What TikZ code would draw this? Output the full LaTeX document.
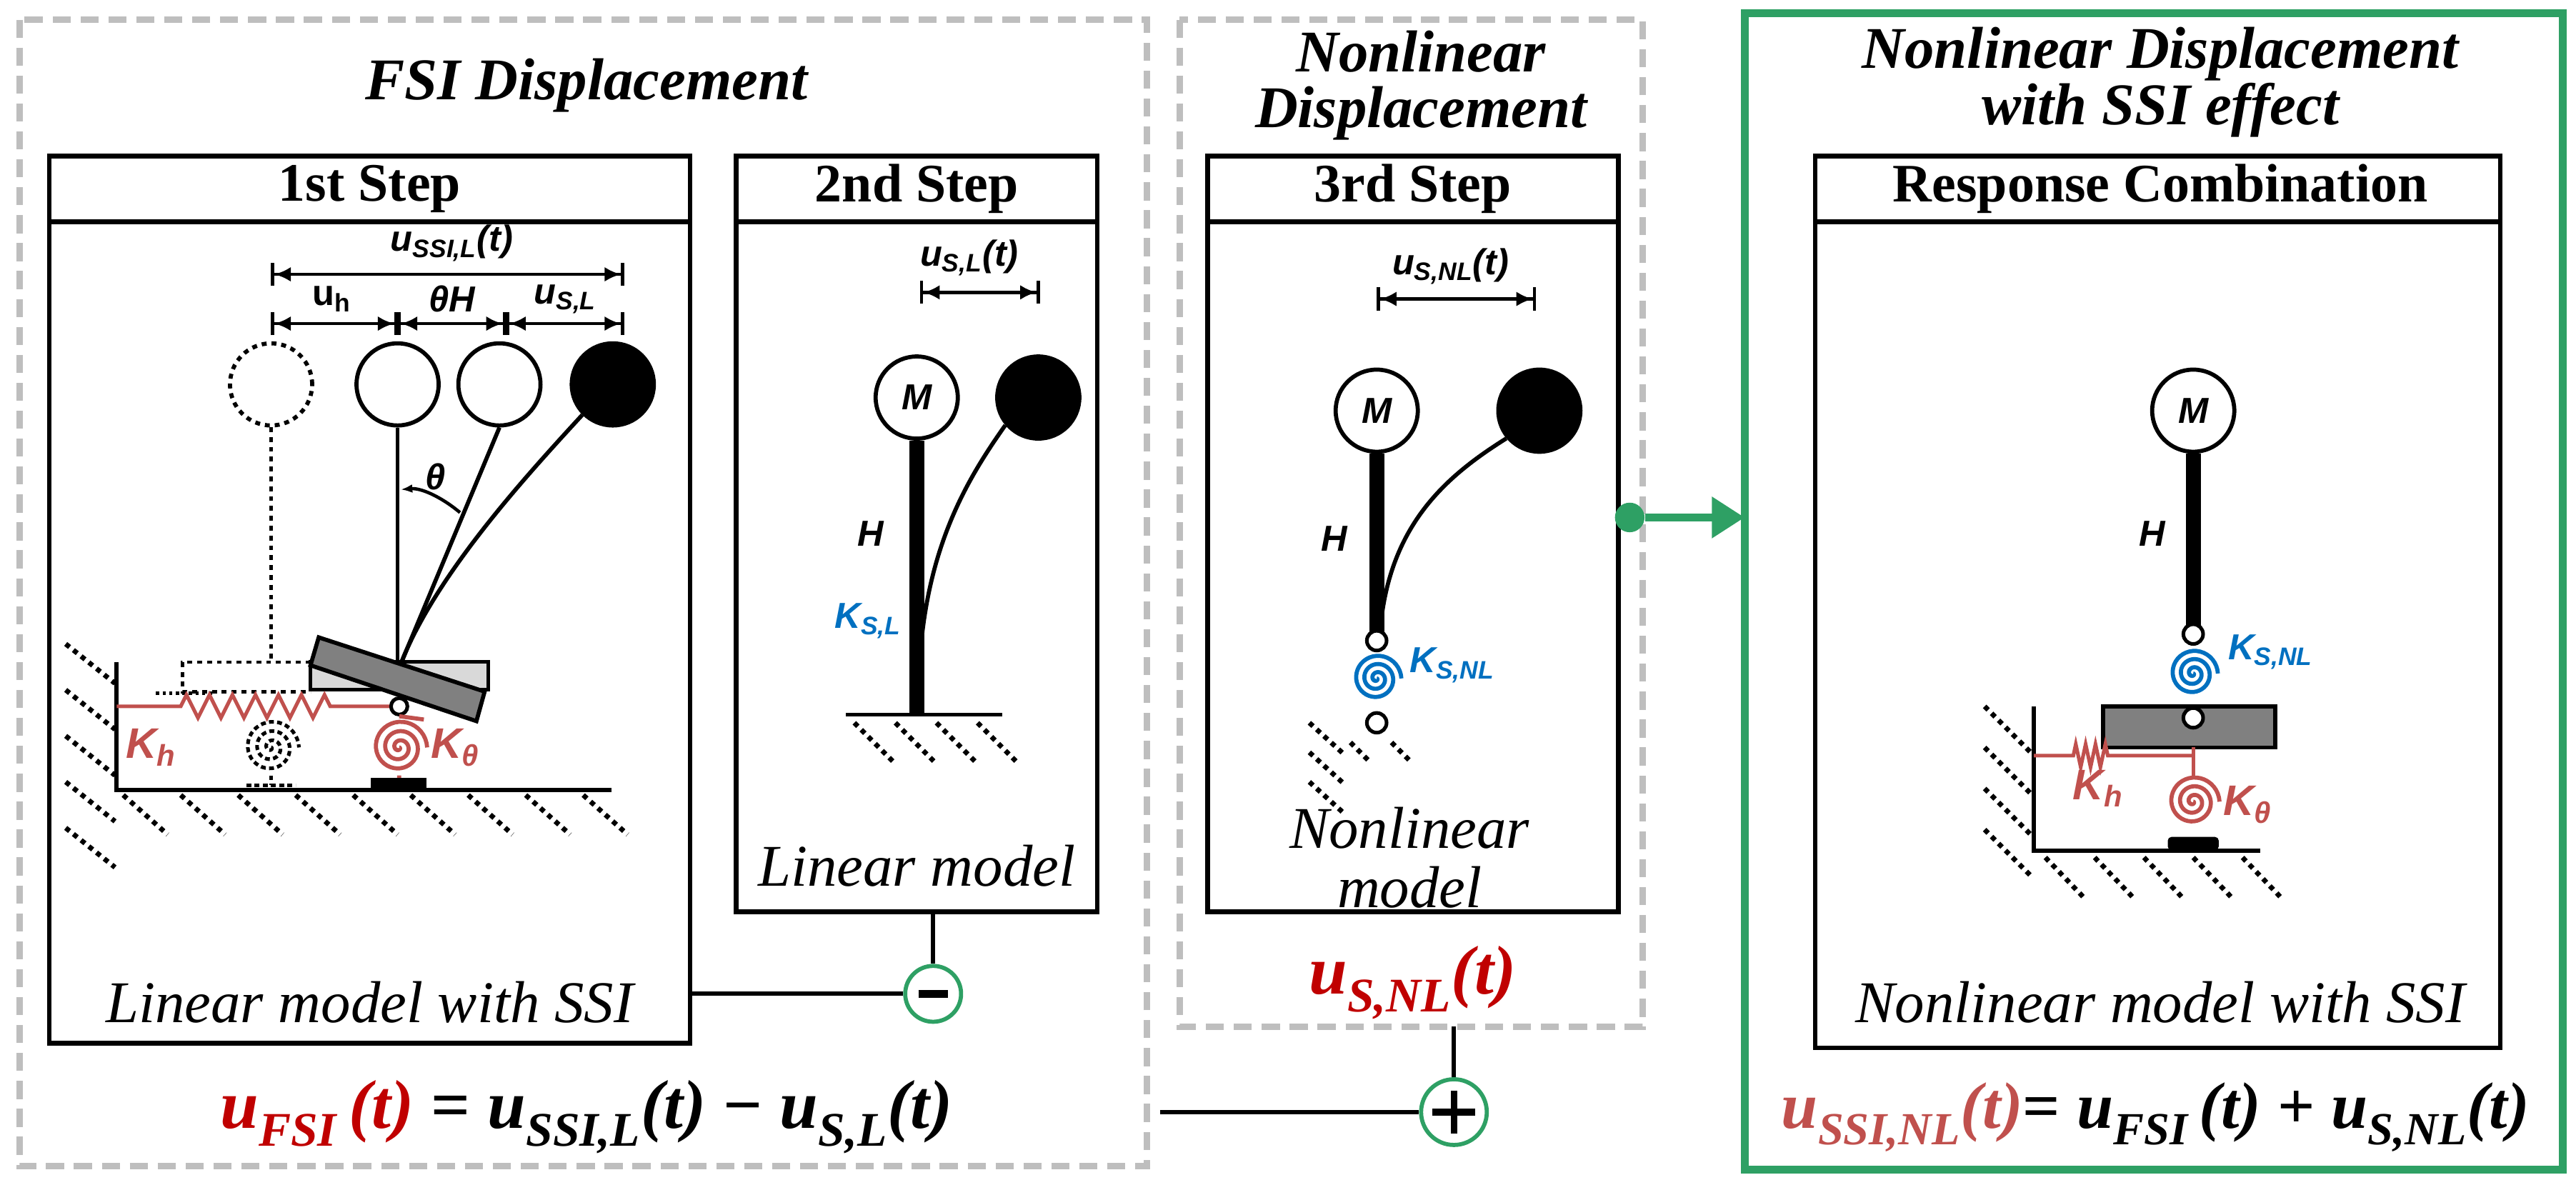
\documentclass[tikz,border=0pt]{standalone}
\usepackage{amsmath}
\usepackage{fontspec}
\setmainfont{Liberation Serif}
\newfontfamily\sansf{Liberation Sans}
\usetikzlibrary{arrows.meta,decorations.pathmorphing}
\definecolor{eqred}{RGB}{192,0,0}
\definecolor{sred}{RGB}{192,80,77}
\definecolor{sblue}{RGB}{0,112,192}
\definecolor{sgreen}{RGB}{46,160,100}
\definecolor{dgray}{RGB}{190,190,190}
\newcommand\myu[1]{\textbf{\textit{u\textsubscript{#1}}}}
\begin{document}
\begin{tikzpicture}[x=1pt,y=-1pt,
 dbox/.style={draw=dgray,line width=4pt,dash pattern=on 11pt off 6pt},
 sbox/.style={draw,line width=2.8pt},
 ttl/.style={font=\fontsize{36}{40}\selectfont\bfseries\itshape},
 hdr/.style={font=\fontsize{33}{36}\selectfont\bfseries},
 lbl/.style={font=\fontsize{36}{40}\selectfont\itshape},
 sl/.style={font=\sansf\fontsize{22}{24}\selectfont\bfseries\itshape},
 kl/.style={font=\sansf\fontsize{26}{28}\selectfont\bfseries\itshape},
 eq/.style={font=\fontsize{42}{44}\selectfont\bfseries},
 dim/.style={line width=2pt,{Bar[width=14pt]Latex[length=10pt,width=9pt]}-{Latex[length=10pt,width=9pt]Bar[width=14pt]}},
 hatch/.style={line width=3pt,dash pattern=on 3pt off 3pt},
 mass/.style={circle,draw,line width=2.5pt,minimum size=50pt,inner sep=0pt},
 pin/.style={circle,draw,line width=2.2pt,fill=white,minimum size=12pt,inner sep=0pt},
 rod/.style={line width=2.5pt},
]
\useasboundingbox (0,0) rectangle (1568,721);
% ---------- frames
\draw[dbox] (12,12) rectangle (698,710);
\draw[dbox] (718,12) rectangle (1000,625);
\draw[draw=sgreen,line width=4.5pt] (1062,8) rectangle (1560,712);
\node[ttl] (t1) at (357,52) {FSI Displacement};
\node[ttl,align=center] (t2) at (865,52) {Nonlinear\\[-6pt]Displacement};
\node[ttl,align=center] (t3) at (1315,50) {Nonlinear Displacement\\[-6pt]with SSI effect};
% step boxes
\draw[sbox] (30,95) rectangle (420,635); \draw[sbox] (30,135)--(420,135);
\node[hdr] (h1) at (225,115) {1st Step};
\draw[sbox] (448,95) rectangle (668,555); \draw[sbox] (448,135)--(668,135);
\node[hdr] (h2) at (558,115) {2nd Step};
\draw[sbox] (735,95) rectangle (985,555); \draw[sbox] (735,135)--(985,135);
\node[hdr] (h3) at (860,115) {3rd Step};
\draw[sbox] (1105,95) rectangle (1522,638); \draw[sbox] (1105,135)--(1522,135);
\node[hdr] (h4) at (1315,115) {Response Combination};
\node[lbl] (l1) at (225,610) {Linear model with SSI};
\node[lbl] (l2) at (558,527) {Linear model};
\node[lbl,align=center] (l3) at (858,522) {Nonlinear\\[-4pt]model};
\node[lbl] (l4) at (1315,610) {Nonlinear model with SSI};
% ---------- 1st step
\foreach \yy in {392,420,448,476,504}{\draw[hatch] (40,\yy)--(70,\yy+24);}
\foreach \xx in {75,110,145,180,215,250,285,320,355}{\draw[hatch] (\xx,484)--(\xx+27,508);}
\draw[line width=2.5pt] (71,403)--(71,481)--(372,481);
\node[mass,dashed] (c0) at (165,234) {};
\node[mass] (c1) at (242,234) {};
\node[mass] (c2) at (304,234) {};
\node[mass,fill=black] (c3) at (373,234) {};
\draw[dim] (165,167)--(380,167);
\node[sl] (ussi) at (275,148) {u\textsubscript{SSI,L}(t)};
\draw[dim] (165,197)--(242,197);
\draw[dim] (242,197)--(308,197);
\draw[dim] (308,197)--(380,197);
\node[sl,font=\sansf\fontsize{22}{24}\selectfont\bfseries] (uh) at (202,182) {u\textsubscript{h}};
\node[sl] (thh) at (275,182) {θH};
\node[sl] (usl) at (344,182) {u\textsubscript{S,L}};
\draw[rod,dashed] (165,260)--(165,403);
\draw[rod] (c1.south)--(242,403);
\draw[rod] (c2.south)--(244,404);
\draw[rod] (c3.225) .. controls (320,290) and (265,350) .. (244,404);
\draw[line width=2pt,-{Latex[length=7pt]}] (280,312) .. controls (268,302) and (256,297) .. (244,298);
\node[sl] (th) at (265,290) {θ};
\draw[line width=2pt,dashed] (189,403)--(111,403)--(111,421)--(189,421);
\draw[line width=2.2pt,fill=gray!30] (189,403) rectangle (297,420);
\draw[line width=2.5pt,fill=gray] (194,388)--(295,421)--(290,439)--(189,405)--cycle;
\draw[line width=2pt,dotted] (95,422)--(130,422);
\draw[sred,line width=2.2pt] (71,430)--(110,430) decorate[decoration={zigzag,segment length=14pt,amplitude=7pt}]{--(205,430)}--(243,430);
\node[pin,minimum size=10pt] (p1) at (243,430) {};
\draw[sred,line width=2.5pt,domain=0:1080,samples=120,shift={(243,455)}] plot (\x:{\x/1080*17});
\draw[sred,line width=2.5pt] (243,436)--(258,438) (243,472)--(243,478);
\draw[line width=2.2pt,dash pattern=on 3pt off 2pt,domain=0:1080,samples=120,shift={(165,455)}] plot (\x:{\x/1080*17});
\draw[line width=2.2pt,dash pattern=on 3pt off 2pt] (165,472)--(165,478) (150,478)--(180,478);
\draw[line width=3pt,fill=black] (227,475) rectangle (258,480);
\node[kl,text=sred] (kh1) at (92,455) {K\textsubscript{h}};
\node[kl,text=sred] (kt1) at (277,455) {K\textsubscript{θ}};
% ---------- 2nd step
\foreach \xx in {520,545,570,595}{\draw[hatch] (\xx,440)--(\xx+24,464);}
\draw[line width=2.5pt] (515,435)--(610,435);
\node[mass] (m2) at (558,242) {\sansf\bfseries\itshape\fontsize{22}{22}\selectfont M};
\node[mass,fill=black] (f2) at (632,242) {};
\draw[line width=9pt] (m2.south)--(558,435);
\draw[rod] (560,400) .. controls (565,330) and (590,290) .. (f2.220);
\draw[dim] (560,178)--(633,178);
\node[sl] (us2) at (590,157) {u\textsubscript{S,L}(t)};
\node[sl] (H2) at (530,325) {H};
\node[sl,text=sblue,anchor=east] (k2) at (552,378) {K\textsubscript{S,L}};
% ---------- 3rd step
\foreach \yy in {440,458,476}{\draw[hatch] (797,\yy)--(819,\yy+20);}
\foreach \xx in {822,847}{\draw[hatch] (\xx,452)--(\xx+12,464);}
\node[mass] (m3) at (838,250) {\sansf\bfseries\itshape\fontsize{22}{22}\selectfont M};
\node[mass,fill=black] (f3) at (937,250) {};
\draw[line width=9pt] (m3.south)--(838,385);
\draw[rod] (840,385) .. controls (845,320) and (880,290) .. (f3.220);
\draw[sblue,line width=2.5pt,domain=0:1080,samples=120,shift={(838,413)}] plot (\x:{\x/1080*15});
\node[pin] (p3a) at (838,390) {};
\node[pin] (p3b) at (838,440) {};
\draw[dim] (838,182)--(935,182);
\node[sl] (us3) at (883,162) {u\textsubscript{S,NL}(t)};
\node[sl] (H3) at (812,328) {H};
\node[sl,text=sblue] (k3) at (884,405) {K\textsubscript{S,NL}};
% ---------- response combination
\foreach \yy in {430,455,480,505}{\draw[hatch] (1208,\yy)--(1236,\yy+28);}
\foreach \xx in {1245,1275,1305,1335,1365}{\draw[hatch] (\xx,522)--(\xx+24,547);}
\draw[line width=2.5pt] (1238,430)--(1238,518)--(1376,518);
\node[mass] (m4) at (1335,250) {\sansf\bfseries\itshape\fontsize{22}{22}\selectfont M};
\draw[line width=9pt] (m4.south)--(1335,383);
\draw[sblue,line width=2.5pt,domain=0:1080,samples=120,shift={(1335,410)}] plot (\x:{\x/1080*15});
\draw[line width=2.5pt,fill=gray] (1280,430) rectangle (1385,455);
\node[pin] (p4a) at (1335,386) {};
\node[pin] (p4b) at (1335,437) {};
\draw[sred,line width=2.2pt] (1238,460)--(1262,460) decorate[decoration={zigzag,segment length=6pt,amplitude=7pt}]{--(1285,460)}--(1335,460);
\draw[sred,line width=2.2pt] (1335,455)--(1335,472);
\draw[sred,line width=2.5pt,domain=0:1080,samples=120,shift={(1335,488)}] plot (\x:{\x/1080*16});
\draw[line width=3pt,fill=black,rounded corners=1pt] (1321,511) rectangle (1349,516);
\node[kl,text=sred] (kh4) at (1277,480) {K\textsubscript{h}};
\node[kl,text=sred] (kt4) at (1368,490) {K\textsubscript{θ}};
\node[sl] (H4) at (1310,325) {H};
\node[sl,text=sblue] (k4) at (1382,397) {K\textsubscript{S,NL}};
% ---------- connectors and equations
\node[circle,draw=sgreen,line width=2.5pt,fill=white,minimum size=34pt,inner sep=0pt] (minus) at (568,605) {};
\draw[line width=5pt] (559,605)--(577,605);
\node[circle,draw=sgreen,line width=2.5pt,fill=white,minimum size=40pt,inner sep=0pt] (plus) at (885,677) {};
\draw[line width=4pt] (872,677)--(898,677) (885,664)--(885,690);
\draw[rod] (420,605)--(minus.west);
\draw[rod] (568,555)--(minus.north);
\draw[rod] (885,625)--(plus.north);
\draw[rod] (706,677)--(plus.west);
\node[circle,fill=sgreen,minimum size=18pt,inner sep=0pt] (gd) at (992,315) {};
\coordinate (ga) at (1062,315);
\draw[sgreen,line width=5pt,-{Triangle[length=20pt,width=24pt]}] (gd)--(ga);
\node[eq,text=eqred] (us) at (860,598) {\myu{S,NL}\textbf{\textit{(t)}}};
\node[eq] (e1) at (357,680) {{\color{eqred}\myu{FSI}\,\textbf{\textit{(t)}}} = \myu{SSI,L}\textbf{\textit{(t)}} − \myu{S,L}\textbf{\textit{(t)}}};
\node[eq,font=\fontsize{40}{44}\selectfont\bfseries] (e2) at (1312,680) {{\color{sred}\myu{SSI,NL}\textbf{\textit{(t)}}}= \myu{FSI}\,\textbf{\textit{(t)}} + \myu{S,NL}\textbf{\textit{(t)}}};
\end{tikzpicture}
\end{document}
